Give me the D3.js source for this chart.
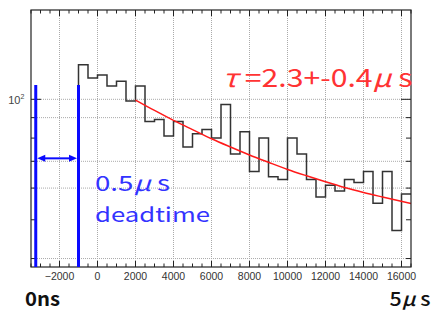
<!DOCTYPE html>
<html><head><meta charset="utf-8">
<script src="https://cdn.jsdelivr.net/npm/d3@7"></script>
<style>body{margin:0;background:#fff}svg{display:block}</style>
</head><body>
<svg id="c" width="434" height="310"></svg>
<script>
// ---- data ----
const binEdges = [-1000,-500,0,500,1000,1500,2000,2500,3000,3500,4000,4500,5000,5500,6000,6500,7000,7500,8000,8500,9000,9500,10000,10500,11000,11500,12000,12500,13000,13500,14000,14500,15000,15500,16000,16500];
const counts = [122,113,115,108,111,99,108,88,89,81,88,76,82,84,80,97,73,83,66,80,64,63,80,73,63,57,61,59,63,62,66,55,66,47,58];
const fitX = [2000,3000,4000,5000,6000,7000,8000,9000,10000,11000,12000,13000,14000,15000,16500];
const fitY = [99.6,93.8,88.6,84.0,79.7,76.0,72.6,69.6,66.8,64.4,62.2,60.2,58.5,57.0,54.9];
const xMajor = [-2000,0,2000,4000,6000,8000,10000,12000,14000,16000];
const xMajorLabels = ["\u22122000","0","2000","4000","6000","8000","10000","12000","14000","16000"];
const yMajor = [100];
const yMinor = [40,50,60,70,80,90];
const yGrid = [40,60,70,90,100];
const fitLabelParts = [["\u03c4", true], [" =2.3+-0.4", false], ["\u03bc", true], [" s", false]];
const deadLabel1Parts = [["0.5", false], ["\u03bc", true], [" s", false]];
const deadLabel2 = "deadtime";
const leftLabel = "0ns";
const rightLabelParts = [["5", false], ["\u03bc", true], [" s", false]];
const deadStart = -3250, deadEnd = -1000, deadTop = 108.6, deadArrowY = 71.2;

// ---- layout ----
const L = 31, R = 411, T = 10, B = 267;
const svg = d3.select("#c");
const x = d3.scaleLinear().domain([-3500, 16500]).range([L, R]);
const y = d3.scaleLog().domain([38.1, 167.2]).range([B, T]);

// grid
const g = svg.append("g");
g.selectAll(".vg").data(xMajor).join("line")
  .attr("x1", d => x(d)).attr("x2", d => x(d)).attr("y1", T).attr("y2", B)
  .attr("stroke", "#aaa").attr("stroke-width", 1).attr("stroke-dasharray", "1,1");
g.selectAll(".hg").data(yGrid).join("line")
  .attr("x1", L).attr("x2", R).attr("y1", d => y(d)).attr("y2", d => y(d))
  .attr("stroke", "#aaa").attr("stroke-width", 1).attr("stroke-dasharray", "1,1");

// histogram
const pts = [[binEdges[0], 38.1]];
counts.forEach((c, i) => { pts.push([binEdges[i], c]); pts.push([binEdges[i + 1], c]); });
svg.append("path")
  .attr("d", d3.line().x(d => x(d[0])).y(d => y(d[1]))(pts))
  .attr("fill", "none").attr("stroke", "#333").attr("stroke-width", 1.5);

// fit
svg.append("path")
  .attr("d", d3.line().x(d => x(d[0])).y(d => y(d[1])).curve(d3.curveMonotoneX)(fitX.map((v, i) => [v, fitY[i]])))
  .attr("fill", "none").attr("stroke", "#ff1a1a").attr("stroke-width", 1.5);

// frame
svg.append("rect").attr("x", L).attr("y", T).attr("width", R - L).attr("height", B - T)
  .attr("fill", "none").attr("stroke", "#222").attr("stroke-width", 1.2);

// ticks
const xMinor = d3.range(-3500, 16501, 500).filter(v => !xMajor.includes(v));
const tk = svg.append("g").attr("stroke", "#222").attr("stroke-width", 1);
xMajor.forEach(v => {
  tk.append("line").attr("x1", x(v)).attr("x2", x(v)).attr("y1", B).attr("y2", B - 6);
  tk.append("line").attr("x1", x(v)).attr("x2", x(v)).attr("y1", T).attr("y2", T + 6);
});
xMinor.forEach(v => {
  tk.append("line").attr("x1", x(v)).attr("x2", x(v)).attr("y1", B).attr("y2", B - 3.5);
  tk.append("line").attr("x1", x(v)).attr("x2", x(v)).attr("y1", T).attr("y2", T + 3.5);
});
yMajor.forEach(v => {
  tk.append("line").attr("x1", L).attr("x2", L + 10).attr("y1", y(v)).attr("y2", y(v));
  tk.append("line").attr("x1", R).attr("x2", R - 10).attr("y1", y(v)).attr("y2", y(v));
});
yMinor.forEach(v => {
  tk.append("line").attr("x1", L).attr("x2", L + 5).attr("y1", y(v)).attr("y2", y(v));
  tk.append("line").attr("x1", R).attr("x2", R - 5).attr("y1", y(v)).attr("y2", y(v));
});

// x labels
svg.append("g").selectAll("text").data(xMajor).join("text")
  .attr("x", d => x(d)).attr("y", 279.5).attr("text-anchor", "middle")
  .attr("font-family", "'Liberation Sans', Arial, sans-serif").attr("font-size", 10.5)
  .attr("fill", "#333").text((d, i) => xMajorLabels[i]);

// y label 10^2
svg.append("text").attr("x", 20.5).attr("y", y(100) + 5).attr("text-anchor", "end")
  .attr("font-family", "'Liberation Sans', Arial, sans-serif").attr("font-size", 11).attr("fill", "#444").text("10");
svg.append("text").attr("x", 20.5).attr("y", y(100) - 0.5)
  .attr("font-family", "'Liberation Sans', Arial, sans-serif").attr("font-size", 7).attr("fill", "#444").text("2");

// deadtime annotation
const blue = "#0a0aff";
[deadStart, deadEnd].forEach(v => {
  svg.append("line").attr("x1", x(v)).attr("x2", x(v)).attr("y1", y(deadTop)).attr("y2", B)
    .attr("stroke", blue).attr("stroke-width", 3);
});
const ax0 = x(deadStart) + 1.5, ax1 = x(deadEnd) - 1.5, ay = y(deadArrowY);
svg.append("line").attr("x1", ax0 + 6).attr("x2", ax1 - 6).attr("y1", ay).attr("y2", ay)
  .attr("stroke", blue).attr("stroke-width", 2);
svg.append("path").attr("d", `M${ax0},${ay}L${ax0 + 8},${ay - 3.5}L${ax0 + 8},${ay + 3.5}Z`).attr("fill", blue);
svg.append("path").attr("d", `M${ax1},${ay}L${ax1 - 8},${ay - 3.5}L${ax1 - 8},${ay + 3.5}Z`).attr("fill", blue);

const jp = "'Noto Sans CJK JP', 'Noto Sans', sans-serif";
function partsText(parts, px, py, size, fill, len, weight) {
  const t = svg.append("text").attr("x", px).attr("y", py).attr("font-family", jp).attr("font-size", size)
    .attr("fill", fill).attr("font-weight", weight || 400)
    .attr("textLength", len).attr("lengthAdjust", "spacingAndGlyphs");
  parts.forEach(([s, it]) => t.append("tspan").attr("font-style", it ? "italic" : "normal").text(s));
  return t;
}
partsText(deadLabel1Parts, 95, 191, 21, "#3333ff", 75);
svg.append("text").attr("x", 95).attr("y", 222.3).attr("font-family", jp).attr("font-size", 20)
  .attr("fill", "#3333ff").attr("textLength", 115).attr("lengthAdjust", "spacingAndGlyphs").text(deadLabel2);

// fit label
partsText(fitLabelParts, 222.5, 86.7, 25, "#ff3333", 190);

// bottom labels
svg.append("text").attr("x", 25).attr("y", 305.5).attr("font-family", jp).attr("font-size", 19)
  .attr("font-weight", 700).attr("fill", "#111").attr("textLength", 35).attr("lengthAdjust", "spacingAndGlyphs").text(leftLabel);
partsText(rightLabelParts, 389.5, 305.5, 19, "#111", 41, 500);
</script>
</body></html>
